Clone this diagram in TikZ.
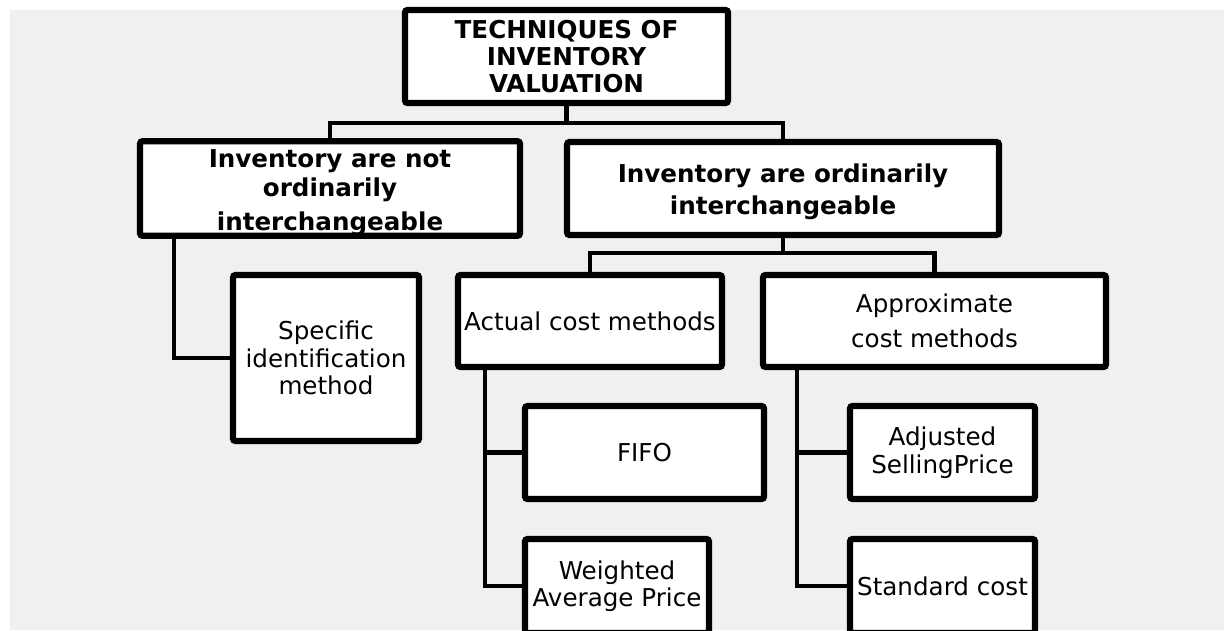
\documentclass[tikz,border=0pt]{standalone}
\usepackage{fontspec}
\setmainfont{DejaVu Sans}
\usetikzlibrary{positioning}
\definecolor{bggray}{HTML}{F0F0F0}
\tikzstyle{headbox} = [rectangle, draw=black, fill=white, line width=3.6pt,
    rounded corners=1.5pt, inner sep=0pt, outer sep=0pt, align=center,
    font=\bfseries\fontsize{14}{15.5}\selectfont]
\tikzstyle{methodbox} = [rectangle, draw=black, fill=white, line width=3.6pt,
    rounded corners=1.5pt, inner sep=0pt, outer sep=0pt, align=center,
    font=\fontsize{14}{15.6}\selectfont]
\tikzstyle{link} = [line width=2.8pt, draw=black]

\begin{document}
\begin{tikzpicture}[x=0.02cm, y=-0.02cm]
            \useasboundingbox (0,0) rectangle (1224,630);
            \clip (0,0) rectangle (1224,630);
            \fill[bggray] (10,10) rectangle (1224,630);

            % level 1 and 2
            \node (top) [headbox, minimum width=6.46cm, minimum height=1.86cm] at (566.5,56.5) {TECHNIQUES OF\\ INVENTORY\\ VALUATION};
            \node (notx) [headbox, minimum width=7.6cm, minimum height=1.86cm, font=\bfseries\fontsize{14}{16.4}\selectfont] at (330,188.5) {\rule{0pt}{15pt}Inventory are not\\ ordinarily\\[3pt] interchangeable};
            \node (inter) [headbox, minimum width=8.64cm, minimum height=1.86cm] at (783,188.5) {\rule{0pt}{14.5pt}Inventory are ordinarily\\[3pt] interchangeable};

            % level 3
            \node (specific) [methodbox, minimum width=3.72cm, minimum height=3.32cm] at (326,358) {Specific\\ identification\\ method};
            \node (actual) [methodbox, minimum width=5.28cm, minimum height=1.84cm] at (590,321) {Actual cost methods};
            \node (approx) [methodbox, minimum width=6.86cm, minimum height=1.84cm] at (934.5,321) {Approximate\\[4pt] cost methods};

            % level 4
            \node (fifo) [methodbox, minimum width=4.78cm, minimum height=1.86cm] at (644.5,452.5) {FIFO};
            \node (weighted) [methodbox, minimum width=3.68cm, minimum height=1.88cm] at (617,586) {Weighted\\ Average Price};
            \node (adjusted) [methodbox, minimum width=3.7cm, minimum height=1.86cm] at (942.5,452.5) {Adjusted\\ SellingPrice};
            \node (standard) [methodbox, minimum width=3.7cm, minimum height=1.88cm] at (942.5,586) {Standard cost};

            \coordinate (split1) at (566.5,123);
            \coordinate (split2) at (783,253);
            \coordinate (nottrunk) at ([xshift=0.68cm]notx.south west);
            \coordinate (actualtrunk) at ([xshift=0.54cm]actual.south west);
            \coordinate (approxtrunk) at ([xshift=0.68cm]approx.south west);

            \draw [link] (top.south) -- (split1);
            \draw [link] (split1) -| (notx.north);
            \draw [link] (split1) -| (inter.north);
            \draw [link] (nottrunk) |- (specific.west);
            \draw [link] (inter.south) -- (split2);
            \draw [link] (split2) -| (actual.north);
            \draw [link] (split2) -| (approx.north);
            \draw [link] (actualtrunk) |- (weighted.west);
            \draw [link] (actualtrunk |- fifo.west) -- (fifo.west);
            \draw [link] (approxtrunk) |- (standard.west);
            \draw [link] (approxtrunk |- adjusted.west) -- (adjusted.west);
        \end{tikzpicture}
\end{document}
